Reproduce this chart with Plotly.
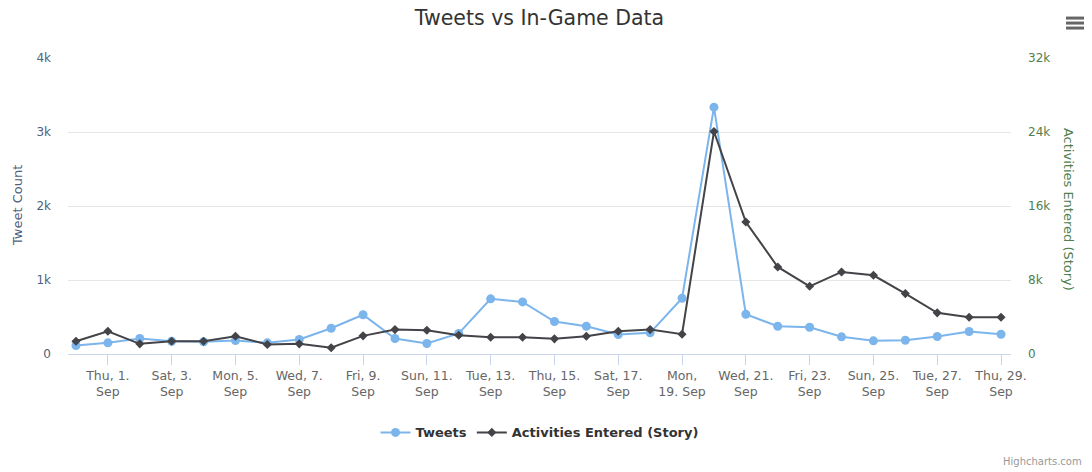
import plotly.graph_objects as go

# Daily series, 31 Aug - 29 Sep
dates = [
    "2022-08-31", "2022-09-01", "2022-09-02", "2022-09-03", "2022-09-04",
    "2022-09-05", "2022-09-06", "2022-09-07", "2022-09-08", "2022-09-09",
    "2022-09-10", "2022-09-11", "2022-09-12", "2022-09-13", "2022-09-14",
    "2022-09-15", "2022-09-16", "2022-09-17", "2022-09-18", "2022-09-19",
    "2022-09-20", "2022-09-21", "2022-09-22", "2022-09-23", "2022-09-24",
    "2022-09-25", "2022-09-26", "2022-09-27", "2022-09-28", "2022-09-29",
]
tweets = [
    115, 151, 209, 173, 165, 182, 151, 196, 348, 531,
    209, 142, 277, 745, 704, 439, 375, 263, 286, 753,
    3336, 537, 375, 362, 232, 178, 186, 236, 304, 267,
]
activities = [
    1380, 2460, 1100, 1380, 1380, 1920, 1030, 1100, 670, 1960,
    2640, 2570, 2030, 1810, 1810, 1640, 1920, 2460, 2640, 2140,
    24050, 14270, 9410, 7320, 8870, 8510, 6530, 4450, 3970, 3970,
]

tick_dates = [
    "2022-09-01", "2022-09-03", "2022-09-05", "2022-09-07", "2022-09-09",
    "2022-09-11", "2022-09-13", "2022-09-15", "2022-09-17", "2022-09-19",
    "2022-09-21", "2022-09-23", "2022-09-25", "2022-09-27", "2022-09-29",
]
tick_labels = [
    "Thu, 1.<br>Sep", "Sat, 3.<br>Sep", "Mon, 5.<br>Sep", "Wed, 7.<br>Sep",
    "Fri, 9.<br>Sep", "Sun, 11.<br>Sep", "Tue, 13.<br>Sep", "Thu, 15.<br>Sep",
    "Sat, 17.<br>Sep", "Mon,<br>19. Sep", "Wed, 21.<br>Sep", "Fri, 23.<br>Sep",
    "Sun, 25.<br>Sep", "Tue, 27.<br>Sep", "Thu, 29.<br>Sep",
]
left_ticks = [0, 1000, 2000, 3000, 4000]
left_labels = ["0", "1k", "2k", "3k", "4k"]
right_ticks = [0, 8000, 16000, 24000, 32000]
right_labels = ["0", "8k", "16k", "24k", "32k"]

FONT = "DejaVu Sans"
BLUE = "#7cb5ec"
DARK = "#434348"
LEFT_COL = "#4e6280"
RIGHT_COL = "#4f8050"

fig = go.Figure()
fig.add_trace(go.Scatter(
    x=dates, y=tweets, name="Tweets", mode="lines+markers",
    line=dict(color=BLUE, width=2),
    marker=dict(symbol="circle", size=9, color=BLUE),
    yaxis="y",
))
fig.add_trace(go.Scatter(
    x=dates, y=activities, name="Activities Entered (Story)", mode="lines+markers",
    line=dict(color=DARK, width=2),
    marker=dict(symbol="diamond", size=7, color=DARK),
    yaxis="y2",
))

fig.update_layout(
    width=1092, height=472,
    margin=dict(l=68, r=81, t=58, b=117.5),
    paper_bgcolor="white", plot_bgcolor="white",
    font=dict(family=FONT, size=12, color="#666666"),
    title=dict(text="Tweets vs In-Game Data", x=0.5, xref="paper", xanchor="center",
               y=1 - 18 / 472, yref="container", yanchor="middle",
               font=dict(family=FONT, size=20.5, color="#333333")),
    showlegend=True,
    legend=dict(orientation="h", x=0.5, xanchor="center", y=-0.265, yanchor="middle",
                font=dict(family=FONT, size=13, color="#333333", weight="bold"),
                itemwidth=30, bgcolor="rgba(0,0,0,0)"),
    xaxis=dict(
        type="date",
        range=["2022-08-30 18:00", "2022-09-29 07:30"],
        tickvals=tick_dates, ticktext=tick_labels,
        ticks="outside", ticklen=10, tickcolor="#ccd6eb", tickwidth=1,
        showline=True, linecolor="#ccd6eb", linewidth=1,
        showgrid=False, zeroline=False,
        tickfont=dict(family=FONT, size=12.5, color="#666666"),
    ),
    yaxis=dict(
        range=[0, 4000], tickvals=left_ticks, ticktext=left_labels,
        showgrid=True, gridcolor="#e6e6e6", gridwidth=1, zeroline=False,
        showline=False, ticks="", ticklabelstandoff=16,
        tickfont=dict(family=FONT, size=12, color=LEFT_COL),
    ),
    yaxis2=dict(
        range=[0, 32000], tickvals=right_ticks, ticktext=right_labels,
        overlaying="y", side="right", showgrid=False, zeroline=False,
        showline=False, ticks="", ticklabelstandoff=16,
        tickfont=dict(family=FONT, size=12, color=RIGHT_COL),
    ),
    annotations=[
        dict(text="Tweet Count", textangle=-90, xref="paper", yref="paper",
             x=(17 - 68) / 943, y=0.5, xanchor="center", yanchor="middle",
             showarrow=False, font=dict(family=FONT, size=13, color=LEFT_COL)),
        dict(text="Activities Entered (Story)", textangle=90, xref="paper", yref="paper",
             x=(1068 - 68) / 943, y=0.49, xanchor="center", yanchor="middle",
             showarrow=False, font=dict(family=FONT, size=13, color=RIGHT_COL)),
        dict(text="Highcharts.com", xref="paper", yref="paper",
             x=(1084 - 68) / 943, y=(354.5 - 462) / 296.5, xanchor="right", yanchor="middle",
             showarrow=False, font=dict(family=FONT, size=10, color="#999999")),
    ],
)

# context-menu button (three bars) in the top-right corner
for py in (18, 23, 28):
    yp = (354.5 - py) / 296.5
    fig.add_shape(type="line", xref="paper", yref="paper",
                  x0=(1066 - 68) / 943, x1=(1084 - 68) / 943, y0=yp, y1=yp,
                  line=dict(color="#666666", width=3))

fig.write_html("out.html")
